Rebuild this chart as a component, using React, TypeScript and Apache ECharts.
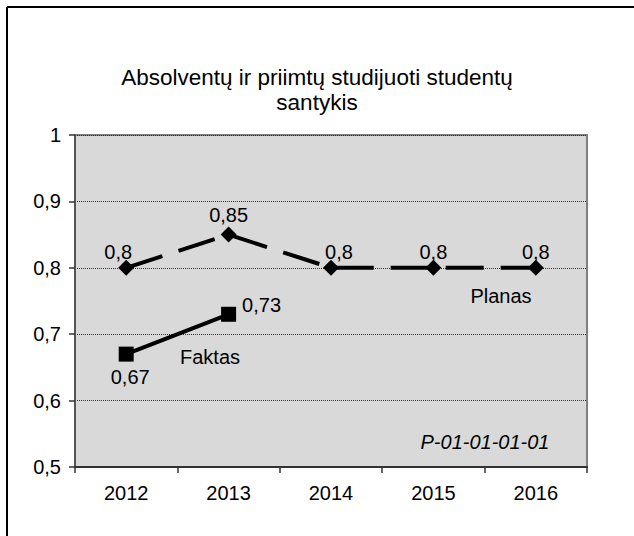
import React, { useEffect, useRef } from "react";
import * as echarts from "echarts";

const years = ["2012", "2013", "2014", "2015", "2016"];
const planas = [0.8, 0.85, 0.8, 0.8, 0.8];
const faktas: (number | null)[] = [0.67, 0.73, null, null, null];
const titleLines = ["Absolventų ir priimtų studijuoti studentų", "santykis"];
const seriesNames = ["Planas", "Faktas"];
const code = "P-01-01-01-01";

const FONT = "'Liberation Sans', Arial, sans-serif";
const fmt = (v: number) => String(v).replace(".", ",");

export default function App() {
  const ref = useRef<HTMLDivElement>(null);
  useEffect(() => {
    document.body.style.margin = "0";
    const chart = echarts.init(ref.current!, null, { renderer: "svg" });
    const planasOffsets: Record<number, number[]> = { 0: [-8, 4], 1: [0, 0], 2: [8, 4], 3: [0, 4], 4: [0, 4] };
    chart.setOption({
      animation: false,
      backgroundColor: "#ffffff",
      textStyle: { fontFamily: FONT },
      grid: {
        left: 75,
        top: 135,
        right: 47,
        bottom: 69,
        show: true,
        backgroundColor: "#d9d9d9",
        borderColor: "#808080",
        borderWidth: 2,
      },
      xAxis: {
        type: "category",
        data: years,
        boundaryGap: true,
        axisLine: { lineStyle: { color: "#333", width: 2 } },
        axisTick: { show: true, length: 6, lineStyle: { color: "#333", width: 1.5 } },
        axisLabel: { color: "#000", fontSize: 20, margin: 16, fontFamily: FONT },
        splitLine: { show: false },
      },
      yAxis: {
        type: "value",
        min: 0.5,
        max: 1,
        interval: 0.1,
        axisLine: { show: true, lineStyle: { color: "#555", width: 2 } },
        axisTick: { show: true, length: 6, lineStyle: { color: "#333", width: 1.5 } },
        axisLabel: {
          color: "#000",
          fontSize: 20,
          margin: 14,
          fontFamily: FONT,
          formatter: (v: number) => fmt(Math.round(v * 10) / 10),
        },
        splitLine: { show: true, lineStyle: { color: "#333", width: 1, type: "dotted" } },
      },
      graphic: [
        { type: "line", shape: { x1: 7, y1: 7, x2: 634, y2: 7 }, style: { stroke: "#000", lineWidth: 2 } },
        { type: "line", shape: { x1: 7, y1: 7, x2: 7, y2: 536 }, style: { stroke: "#000", lineWidth: 2 } },
        {
          type: "text",
          x: 317,
          y: 65,
          style: {
            text: titleLines.join("\n"),
            fontSize: 22.5,
            lineHeight: 25,
            fontFamily: FONT,
            fill: "#000",
            align: "center",
            verticalAlign: "top",
          },
        },
        {
          type: "text",
          x: 501,
          y: 296,
          style: { text: seriesNames[0], fontSize: 20, fontFamily: FONT, fill: "#000", align: "center", verticalAlign: "middle" },
        },
        {
          type: "text",
          x: 210,
          y: 357,
          style: { text: seriesNames[1], fontSize: 20, fontFamily: FONT, fill: "#000", align: "center", verticalAlign: "middle" },
        },
        {
          type: "text",
          x: 485,
          y: 442,
          style: { text: code, fontSize: 20, fontStyle: "italic", fontFamily: FONT, fill: "#000", align: "center", verticalAlign: "middle" },
        },
      ],
      series: [
        {
          name: seriesNames[0],
          type: "line",
          data: planas.map((v, i) => ({
            value: v,
            label: { offset: planasOffsets[i] },
          })),
          symbol: "diamond",
          symbolSize: 16,
          itemStyle: { color: "#000" },
          lineStyle: { color: "#000", width: 4, type: [38, 17] },
          label: {
            show: true,
            position: "top",
            distance: 2,
            fontSize: 20,
            color: "#000",
            fontFamily: FONT,
            formatter: (p: any) => fmt(p.value),
          },
          z: 3,
        },
        {
          name: seriesNames[1],
          type: "line",
          data: faktas.map((v, i) => ({
            value: v,
            label: i === 1 ? { position: "right", distance: 6, offset: [0, -9] } : { position: "bottom", distance: 5, offset: [4, 0] },
          })),
          symbol: "rect",
          symbolSize: 15,
          itemStyle: { color: "#000" },
          lineStyle: { color: "#000", width: 4, type: "solid" },
          label: {
            show: true,
            fontSize: 20,
            color: "#000",
            fontFamily: FONT,
            formatter: (p: any) => (p.value == null ? "" : fmt(p.value)),
          },
          z: 3,
        },
      ],
    });
    return () => chart.dispose();
  }, []);
  return <div ref={ref} style={{ width: 634, height: 536 }} />;
}
